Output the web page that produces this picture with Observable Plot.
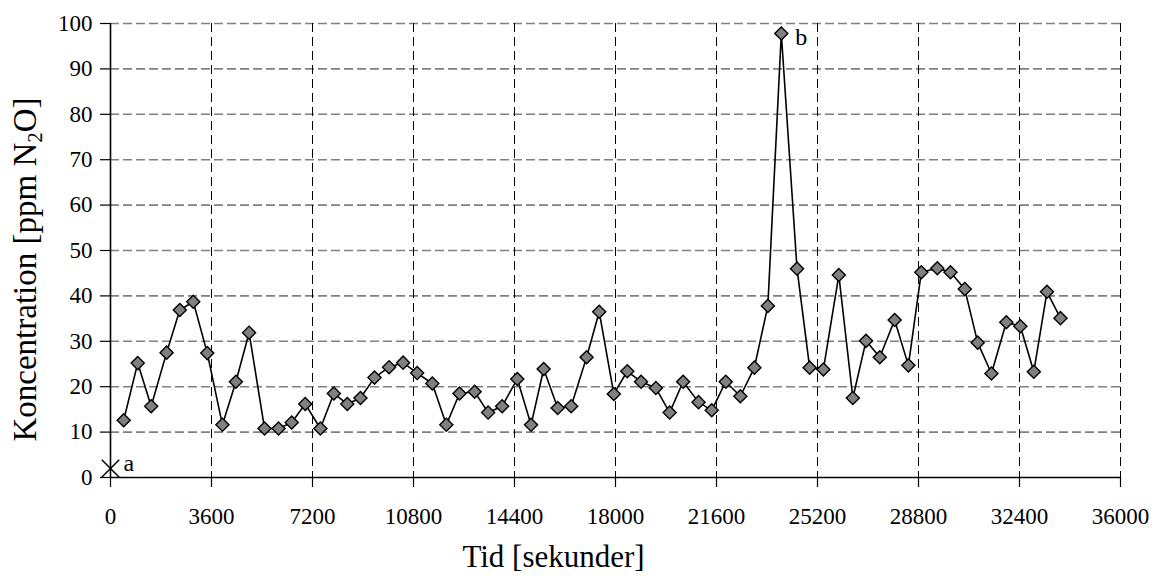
<!DOCTYPE html>
<html>
<head>
<meta charset="utf-8">
<script src="https://cdn.jsdelivr.net/npm/d3@7"></script>
<script src="https://cdn.jsdelivr.net/npm/@observablehq/plot@0.6"></script>
<style>
  html, body { margin: 0; padding: 0; background: #fff; }
  #chart svg { display: block; }
  #chart svg text { font-family: "Liberation Serif", "Times New Roman", serif !important; font-variant: normal !important; }
</style>
</head>
<body>
<div id="chart"></div>
<script>
// Time in seconds
const times = [470, 970, 1450, 2000, 2470, 2950, 3450, 3990, 4470, 4940,
  5490, 5990, 6460, 6940, 7480, 7960, 8440, 8910, 9410, 9930,
  10430, 10930, 11470, 11970, 12440, 12980, 13460, 13960, 14500, 14990,
  15440, 15940, 16420, 16970, 17420, 17940, 18420, 18910, 19440, 19930,
  20410, 20960, 21430, 21930, 22450, 22950, 23430, 23910, 24470, 24920,
  25410, 25960, 26460, 26930, 27420, 27950, 28440, 28900, 29470, 29940,
  30450, 30910, 31400, 31930, 32430, 32910, 33380, 33860];
// Concentration ppm N2O
const values = [12.6, 25.2, 15.7, 27.5, 36.9, 38.7, 27.4, 11.6, 21.1, 31.9,
  10.8, 10.8, 12.1, 16.2, 10.8, 18.5, 16.2, 17.5, 22.0, 24.3,
  25.3, 23.0, 20.7, 11.6, 18.5, 18.9, 14.3, 15.7, 21.7, 11.6,
  23.9, 15.3, 15.7, 26.5, 36.5, 18.4, 23.4, 21.1, 19.7, 14.3,
  21.1, 16.6, 14.8, 21.1, 17.9, 24.2, 37.8, 97.8, 46.0, 24.2,
  23.8, 44.6, 17.5, 30.1, 26.5, 34.7, 24.7, 45.2, 46.1, 45.2,
  41.5, 29.7, 22.9, 34.2, 33.3, 23.3, 40.9, 35.1];
const xTicks = [0, 3600, 7200, 10800, 14400, 18000, 21600, 25200, 28800, 32400, 36000];
const yTicks = [0, 10, 20, 30, 40, 50, 60, 70, 80, 90, 100];
const startPoint = [{t: 0, v: 2, label: "a"}];
const peakPoint = [{t: 23910, v: 97.8, label: "b"}];
const xTitle = "Tid [sekunder]";
const yTitle = "Koncentration [ppm N2O]";

const data = times.map((t, i) => ({t, v: values[i]}));
const serif = "'Liberation Serif', 'Times New Roman', serif";

const chart = Plot.plot({
  width: 1153,
  height: 581,
  marginLeft: 110,
  marginRight: 33,
  marginTop: 23,
  marginBottom: 104,
  style: {fontFamily: serif, color: "black", background: "white"},
  x: {domain: [0, 36000]},
  y: {domain: [0, 100]},
  marks: [
    Plot.gridY(yTicks.filter(d => d > 0), {stroke: "#808080", strokeOpacity: 1, strokeWidth: 1.6, strokeDasharray: "9,4"}),
    Plot.gridX(xTicks.filter(d => d > 0), {stroke: "black", strokeOpacity: 1, strokeWidth: 1, strokeDasharray: "9,5"}),
    Plot.axisY(yTicks, {tickSize: 10, tickPadding: 8, fontSize: 23, fontFamily: serif, tickFormat: d => String(d), label: null, strokeWidth: 1.2}),
    Plot.axisX(xTicks, {tickSize: 10, tickPadding: 20, fontSize: 23, fontFamily: serif, tickFormat: d => String(d), label: null, strokeWidth: 1.2}),
    Plot.ruleX([0], {stroke: "black", strokeWidth: 1.6}),
    Plot.ruleY([0], {stroke: "black", strokeWidth: 1.6}),
    Plot.line(data, {x: "t", y: "v", stroke: "black", strokeWidth: 1.6}),
    Plot.dot(data, {x: "t", y: "v", symbol: "diamond2", r: 5.9, fill: "#808080", stroke: "black", strokeWidth: 1.4}),
    Plot.dot(startPoint, {x: "t", y: "v", symbol: "times", r: 8, stroke: "black", strokeWidth: 1.5}),
    Plot.text(startPoint, {x: "t", y: "v", text: "label", dx: 13, dy: -5, textAnchor: "start", fontSize: 24, fontFamily: serif}),
    Plot.text(peakPoint, {x: "t", y: "v", text: "label", dx: 14, dy: 4, textAnchor: "start", fontSize: 24, fontFamily: serif}),
    Plot.text([xTitle], {frameAnchor: "bottom", dx: -62, dy: 89, textAnchor: "middle", fontSize: 31, fontFamily: serif}),
    Plot.text([yTitle], {frameAnchor: "left", dx: -85, dy: 19, rotate: -90, textAnchor: "middle", fontSize: 33, fontFamily: serif})
  ]
});

// subscript the 2 in N2O
d3.select(chart).selectAll("text").each(function() {
  if (this.textContent === yTitle) {
    const sel = d3.select(this);
    sel.text(null);
    sel.append("tspan").text("Koncentration [ppm N");
    sel.append("tspan").attr("font-size", "21").attr("dy", "6").text("2");
    sel.append("tspan").attr("dy", "-6").text("O]");
  }
});

document.getElementById("chart").appendChild(chart);
</script>
</body>
</html>
